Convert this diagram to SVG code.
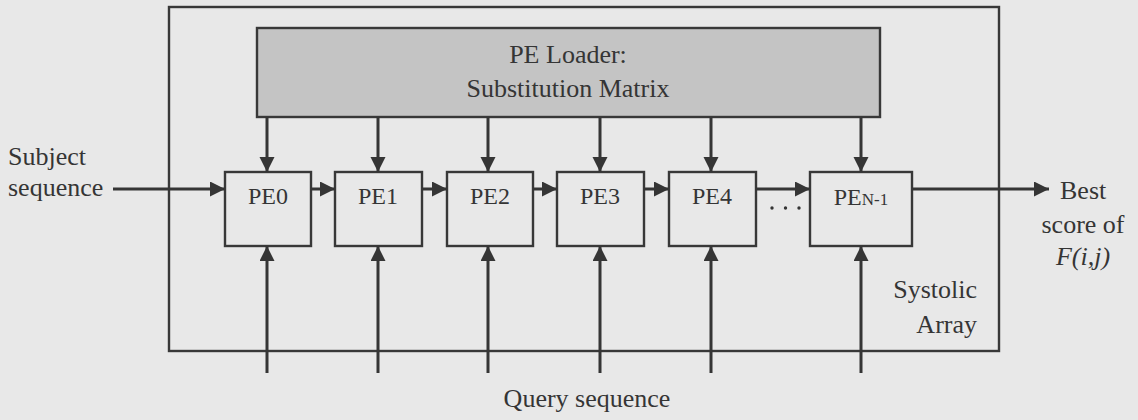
<svg xmlns="http://www.w3.org/2000/svg" width="1138" height="420" viewBox="0 0 1138 420">
  <defs>
    <marker id="arrow" markerUnits="userSpaceOnUse" markerWidth="16" markerHeight="16" refX="15" refY="7.5" orient="auto">
      <path d="M0,0 L15,7.5 L0,15 Z" fill="#353535"/>
    </marker>
    <style>
      .frame { fill: none; stroke: #383838; stroke-width: 2.4; }
      .loader { fill: #c4c4c4; stroke: #383838; stroke-width: 2.4; }
      .pe { fill: none; stroke: #383838; stroke-width: 2.4; }
      .wire { fill: none; stroke: #353535; stroke-width: 3; marker-end: url(#arrow); }
      .lbl { font-family: "Liberation Serif", "Times New Roman", serif; font-size: 26px; fill: #353535; }
      .pel { font-family: "Liberation Serif", "Times New Roman", serif; font-size: 24px; fill: #353535; text-anchor: middle; }
      .mid { text-anchor: middle; }
    </style>
  </defs>

  <rect width="1138" height="420" fill="#e8e8e8"/>

  <!-- systolic array enclosure -->
  <g id="systolic-array">
    <rect class="frame" x="169" y="7" width="830" height="344"/>
    <text class="lbl" x="977" y="298" text-anchor="end">Systolic</text>
    <text class="lbl" x="977" y="333" text-anchor="end">Array</text>
  </g>

  <g id="pe-loader">
    <rect class="loader" x="257" y="28" width="623" height="89"/>
    <text class="lbl mid" x="568" y="63">PE Loader:</text>
    <text class="lbl mid" x="568" y="97">Substitution Matrix</text>
  </g>

  <g id="pe0">
    <rect class="pe" x="225" y="172" width="86" height="74"/>
    <text class="pel" x="268" y="204">PE0</text>
  </g>
  <g id="pe1">
    <rect class="pe" x="335" y="172" width="87" height="74"/>
    <text class="pel" x="378" y="204">PE1</text>
  </g>
  <g id="pe2">
    <rect class="pe" x="447" y="172" width="86" height="74"/>
    <text class="pel" x="490" y="204">PE2</text>
  </g>
  <g id="pe3">
    <rect class="pe" x="557" y="172" width="87" height="74"/>
    <text class="pel" x="600" y="204">PE3</text>
  </g>
  <g id="pe4">
    <rect class="pe" x="669" y="172" width="87" height="74"/>
    <text class="pel" x="712" y="204">PE4</text>
  </g>
  <g id="pe-n-1">
    <rect class="pe" x="810" y="172" width="102" height="74"/>
    <text class="pel" x="861" y="205">PE<tspan font-size="17">N-1</tspan></text>
  </g>

  <g id="ellipsis" fill="#353535">
    <circle cx="772" cy="208" r="1.7"/>
    <circle cx="785.5" cy="208" r="1.7"/>
    <circle cx="799" cy="208" r="1.7"/>
  </g>

  <g id="subject-label">
    <text class="lbl" x="8" y="165">Subject</text>
    <text class="lbl" x="8" y="196">sequence</text>
  </g>

  <g id="result-label">
    <text class="lbl" x="1060" y="199">Best</text>
    <text class="lbl mid" x="1083" y="233">score of</text>
    <text class="lbl mid" x="1083" y="265" font-style="italic">F(i,j)</text>
  </g>

  <g id="query-label">
    <text class="lbl mid" x="587" y="407" font-size="27">Query sequence</text>
  </g>

  <g id="connectors">
    <!-- loader to each PE -->
    <line class="wire" x1="267" y1="117" x2="267" y2="172"/>
    <line class="wire" x1="378" y1="117" x2="378" y2="172"/>
    <line class="wire" x1="488" y1="117" x2="488" y2="172"/>
    <line class="wire" x1="600" y1="117" x2="600" y2="172"/>
    <line class="wire" x1="711" y1="117" x2="711" y2="172"/>
    <line class="wire" x1="861" y1="117" x2="861" y2="172"/>
    <!-- query sequence into each PE -->
    <line class="wire" x1="267" y1="373" x2="267" y2="246"/>
    <line class="wire" x1="378" y1="373" x2="378" y2="246"/>
    <line class="wire" x1="488" y1="373" x2="488" y2="246"/>
    <line class="wire" x1="600" y1="373" x2="600" y2="246"/>
    <line class="wire" x1="711" y1="373" x2="711" y2="246"/>
    <line class="wire" x1="861" y1="373" x2="861" y2="246"/>
    <!-- subject chain -->
    <line class="wire" x1="113" y1="189" x2="225" y2="189"/>
    <line class="wire" x1="311" y1="189" x2="335" y2="189"/>
    <line class="wire" x1="422" y1="189" x2="447" y2="189"/>
    <line class="wire" x1="533" y1="189" x2="557" y2="189"/>
    <line class="wire" x1="644" y1="189" x2="669" y2="189"/>
    <line class="wire" x1="756" y1="189" x2="810" y2="189"/>
    <line class="wire" x1="912" y1="189" x2="1049" y2="189"/>
  </g>
</svg>
